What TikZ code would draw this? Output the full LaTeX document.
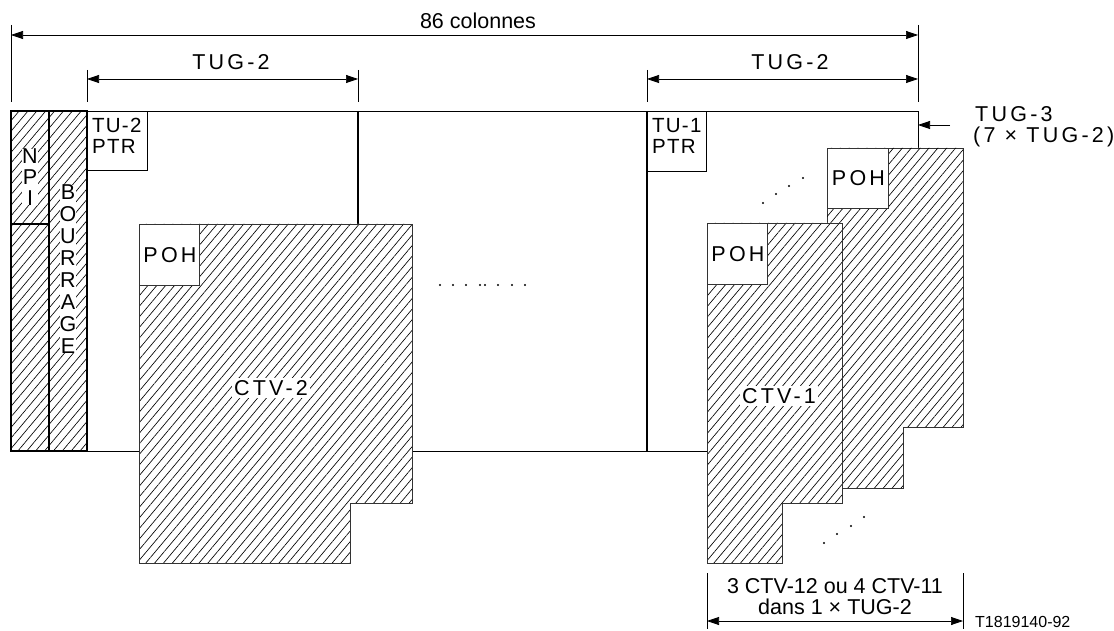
\documentclass[tikz,border=0pt]{standalone}
\usepackage{fontspec}
\setmainfont{Liberation Sans}
\newfontfamily\spacedfont[LetterSpace=15]{Liberation Sans}
\newfontfamily\lightspacedfont[LetterSpace=6]{Liberation Sans}
\usetikzlibrary{arrows.meta,patterns.meta}
\begin{document}
\begin{tikzpicture}[x=1pt,y=-1pt,
  txt/.style={font=\fontsize{21.5}{24}\selectfont, inner sep=0pt},
  sptxt/.style={font=\spacedfont\fontsize{21.5}{24}\selectfont, inner sep=0pt},
  ptrtxt/.style={font=\lightspacedfont\fontsize{20.5}{21}\selectfont, inner sep=0pt, align=left, anchor=north west},
  smalltxt/.style={font=\fontsize{16}{18}\selectfont, inner sep=0pt},
  hatchfill/.style={pattern={Lines[angle=50,distance=6.8pt,line width=0.65pt]}},
  outl/.style={draw=black!80, line width=0.9pt},
  frameline/.style={line width=0.8pt},
  thickline/.style={line width=1.6pt},
  dimline/.style={line width=0.7pt, {Triangle[length=12pt,width=8pt]}-{Triangle[length=12pt,width=8pt]}},
  oneway/.style={line width=0.7pt, -{Triangle[length=12pt,width=8pt]}},
  extline/.style={line width=0.6pt},
  dot/.style={circle, fill=black, inner sep=0pt, minimum size=2.4pt}
]
\useasboundingbox (0,0) rectangle (1114,631);

% ---------- dimension lines top ----------
\coordinate (e0t) at (11,25);   \coordinate (e0b) at (11,102);
\coordinate (e1t) at (87,70);   \coordinate (e1b) at (87,102);
\coordinate (e2t) at (358,70);  \coordinate (e2b) at (358,102);
\coordinate (e3t) at (647,70);  \coordinate (e3b) at (647,102);
\coordinate (e4t) at (918,25);  \coordinate (e4b) at (918,102);
\foreach \i in {0,...,4} \draw[extline] (e\i t) -- (e\i b);

\coordinate (a86l) at (11,35);  \coordinate (a86r) at (918,35);
\draw[dimline] (a86l) -- (a86r);
\node[txt] (t86) at (478,21) {86 colonnes};

\coordinate (tug1l) at (87,79);  \coordinate (tug1r) at (358,79);
\draw[dimline] (tug1l) -- (tug1r);
\node[sptxt] (tug1) at (231,62) {TUG-2};

\coordinate (tug2l) at (647,79);  \coordinate (tug2r) at (918,79);
\draw[dimline] (tug2l) -- (tug2r);
\node[sptxt] (tug2) at (790,62) {TUG-2};

% ---------- frame ----------
\draw[frameline] (11,111) -- (918,111) -- (918,148);
\draw[frameline] (11,451) -- (139,451);
\draw[frameline] (412,451) -- (707,451);
\draw[thickline] (358,111) -- (358,224);
\draw[thickline] (647,111) -- (647,451);

% NPI and BOURRAGE columns
\fill[hatchfill] (11,111) rectangle (87,451);
\draw[thickline] (11,111) rectangle (49,451);
\draw[thickline] (49,111) rectangle (87,451);
\draw[thickline] (11,224) -- (49,224);
\node[txt, fill=white, align=center, font=\fontsize{21.5}{21}\selectfont] (npi) at (30,177) {N\\P\\I};
\node[txt, fill=white, align=center, font=\fontsize{21.5}{21.9}\selectfont] (bour) at (68,269) {B\\O\\U\\R\\R\\A\\G\\E};

% TU-2 PTR
\draw[frameline] (87,170) -- (147,170) -- (147,111);
\node[ptrtxt] (tu2) at (92,118) {TU-2\\PTR};

% TU-1 PTR
\draw[frameline] (647,171) -- (706,171) -- (706,111);
\node[ptrtxt] (tu1) at (652,118) {TU-1\\PTR};

% ---------- CTV-2 ----------
\fill[white] (139,224) -- (412,224) -- (412,503) -- (350,503) -- (350,563) -- (139,563) -- cycle;
\draw[outl, hatchfill] (139,224) -- (412,224) -- (412,503) -- (350,503) -- (350,563) -- (139,563) -- cycle;
\draw[outl, fill=white] (139,224) rectangle (199,285);
\node[sptxt] (poh2) at (170,255) {POH};
\node[sptxt, fill=white, inner sep=2pt] (ctv2) at (271,388) {CTV-2};

% middle dots
\foreach \x [count=\k] in {440,453,466,480,485,498,512,525} \node[dot] (md\k) at (\x,285) {};

% ---------- right stack ----------
\draw[outl, fill=white] (827,148) -- (963,148) -- (963,427) -- (903,427) -- (903,488) -- (827,488) -- cycle;
\fill[hatchfill] (827,148) -- (963,148) -- (963,427) -- (903,427) -- (903,488) -- (827,488) -- cycle;
\draw[outl, fill=white] (827,148) rectangle (888,208);
\node[sptxt] (pohb) at (858.5,178) {POH};

\fill[white] (707,223) -- (842,223) -- (842,503) -- (782,503) -- (782,563) -- (707,563) -- cycle;
\draw[outl, hatchfill] (707,223) -- (842,223) -- (842,503) -- (782,503) -- (782,563) -- (707,563) -- cycle;
\draw[outl, fill=white] (707,223) rectangle (767,284);
\node[sptxt] (pohf) at (738,254) {POH};
\node[sptxt, fill=white, inner sep=2pt] (ctv1) at (779,396) {CTV-1};

% diagonal dots
\foreach \x/\y [count=\k] in {763/203,776/194,789/186,803/178} \node[dot] (ud\k) at (\x,\y) {};
\foreach \x/\y [count=\k] in {824/543,837/534,851/526,864/517} \node[dot] (ld\k) at (\x,\y) {};

% TUG-3 arrow and label
\coordinate (tug3s) at (950,125);
\coordinate (tug3e) at (918,125);
\draw[oneway] (tug3s) -- (tug3e);
\node[sptxt, anchor=west] (tug3) at (975,114) {TUG-3};
\node[sptxt, anchor=west] (tug3b) at (973,137) {(7 × TUG-2)};

% ---------- bottom dimension ----------
\coordinate (b1t) at (707,573); \coordinate (b1b) at (707,629);
\coordinate (b2t) at (963,573); \coordinate (b2b) at (963,629);
\draw[extline] (b1t) -- (b1b);
\draw[extline] (b2t) -- (b2b);
\coordinate (bl) at (707,621); \coordinate (br) at (963,621);
\draw[dimline] (bl) -- (br);
\node[txt] (bt1) at (835,586) {3 CTV-12 ou 4 CTV-11};
\node[txt] (bt2) at (835,607) {dans 1 × TUG-2};
\node[smalltxt, anchor=west] (ref) at (975,622) {T1819140-92};
\end{tikzpicture}
\end{document}
